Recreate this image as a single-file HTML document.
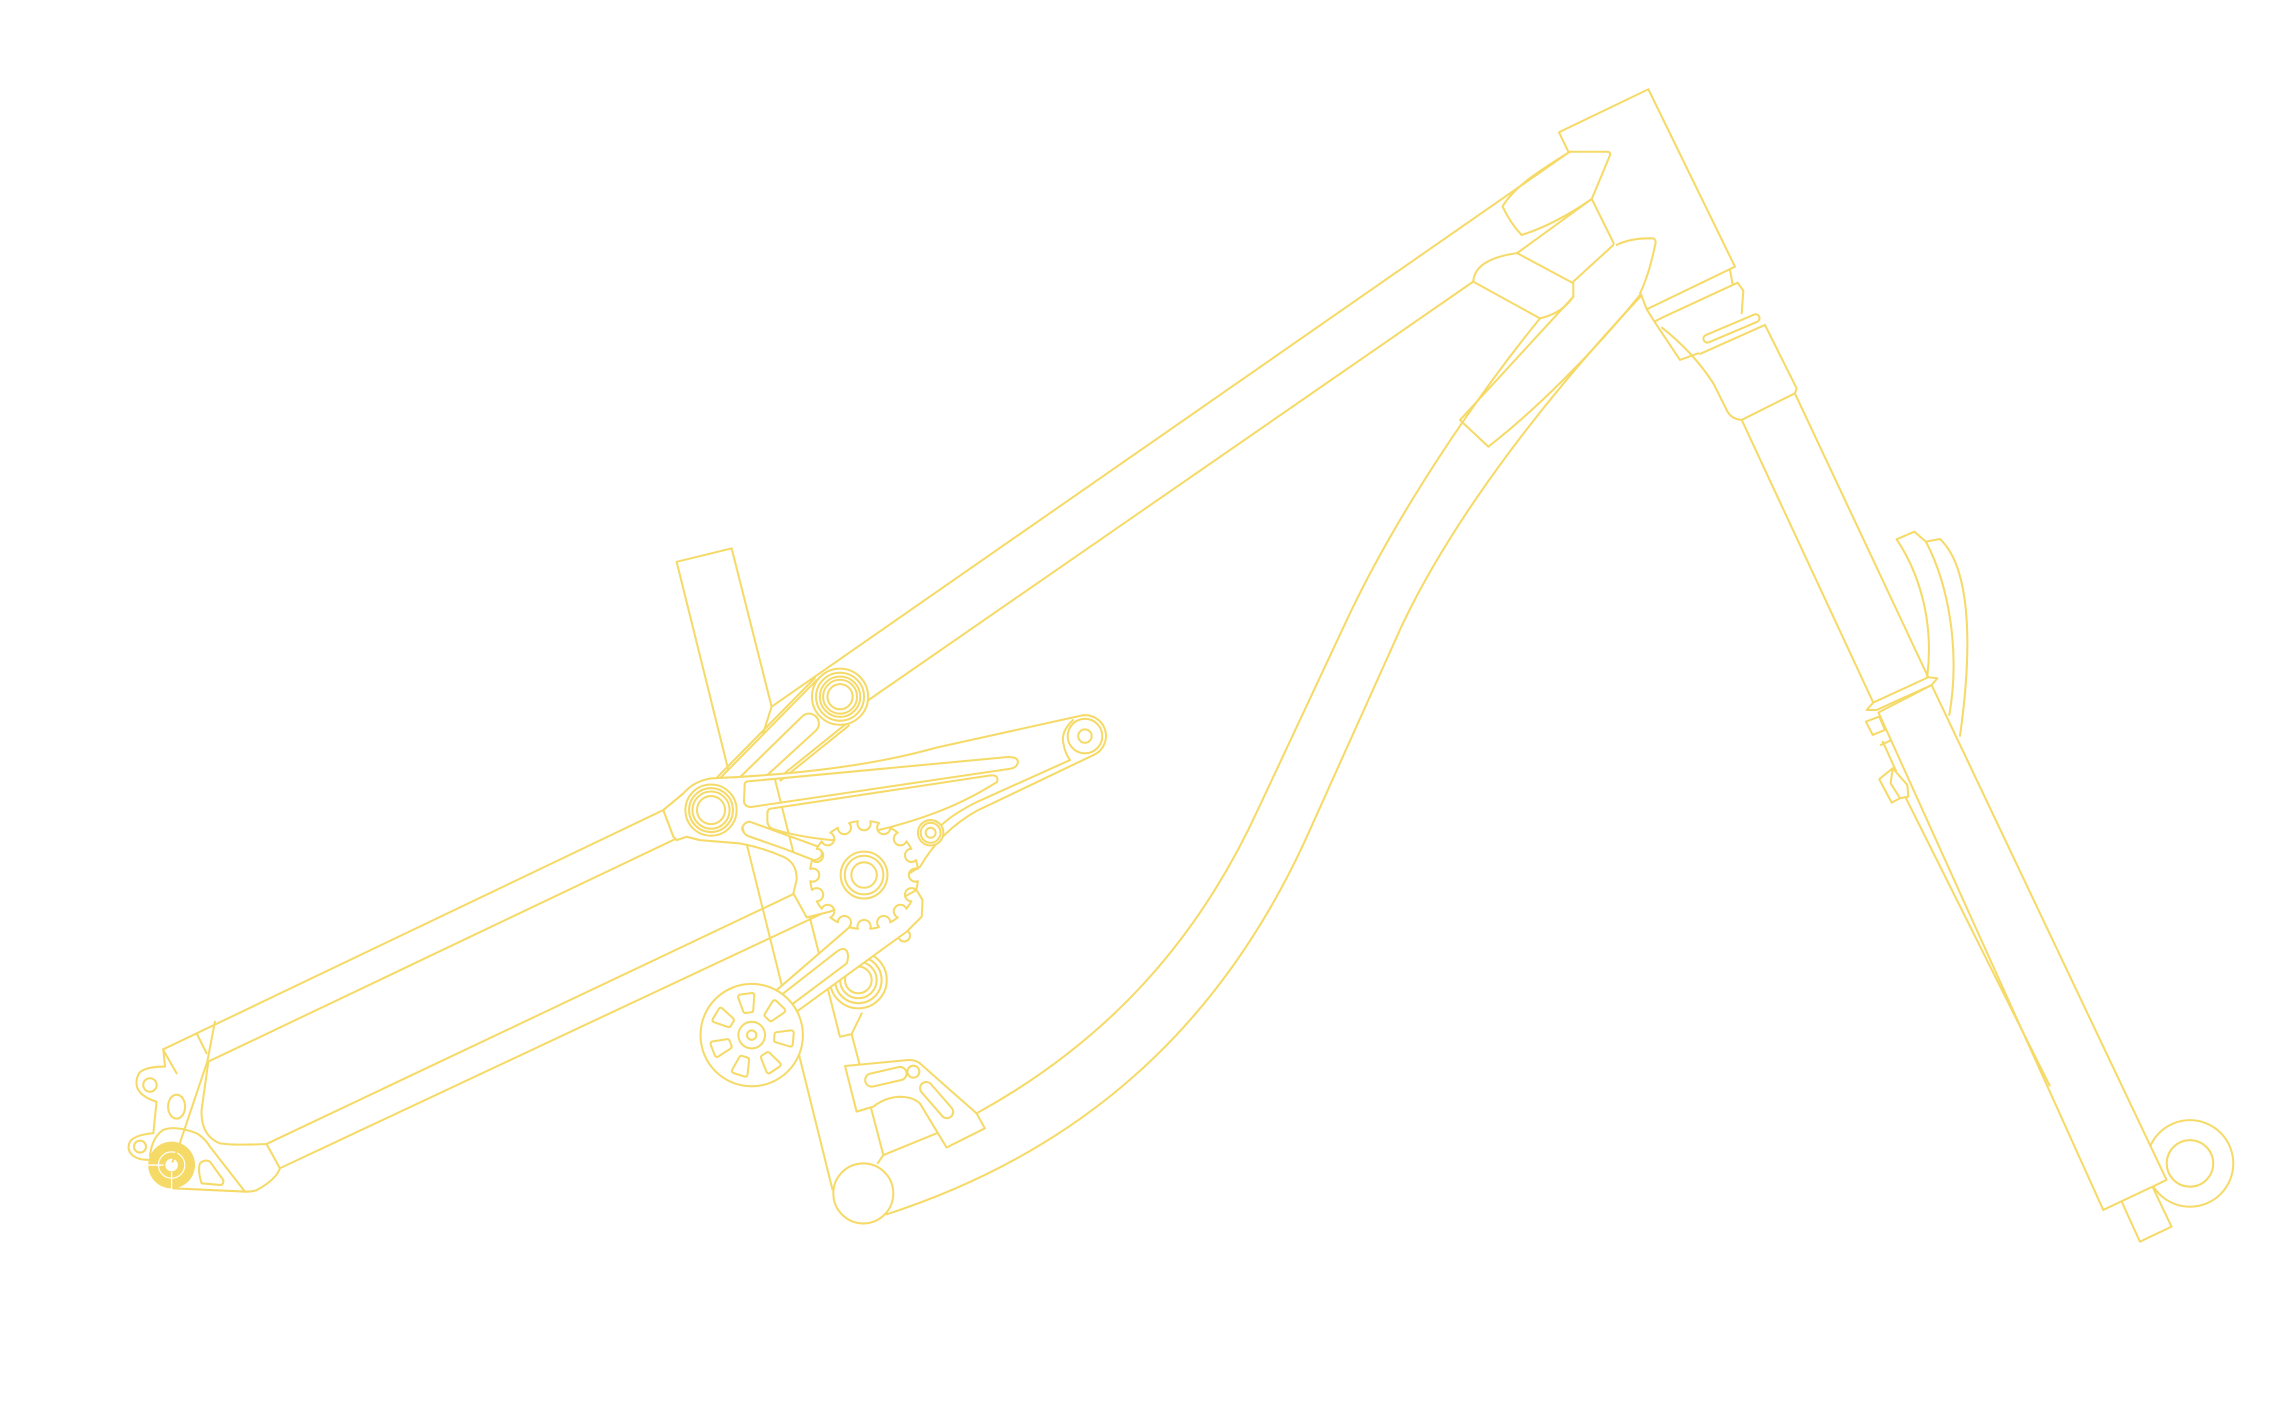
<!DOCTYPE html>
<html>
<head>
<meta charset="utf-8">
<style>
html,body{margin:0;padding:0;background:#ffffff;}
svg{display:block;}
</style>
</head>
<body>
<svg width="2294" height="1424" viewBox="0 0 1568 973.3" preserveAspectRatio="none" xmlns="http://www.w3.org/2000/svg">
<rect width="1568" height="973.3" fill="#ffffff"/>
<g fill="none" stroke="#F6DA68" stroke-width="1.4" stroke-linejoin="round" stroke-linecap="round">

<!-- ===== FORK ===== -->
<circle cx="1496.9" cy="795.2" r="29.6"/>
<circle cx="1496.9" cy="795.2" r="15.9"/>
<path d="M1450.2,821.3 L1462.7,848.7 L1484.3,838.4 L1471.8,812.2" fill="#fff"/>
<path d="M1284,487 L1320.3,468.2 L1480.9,806.5 L1437.6,827 Z" fill="#fff"/>
<path d="M1287,507 L1296,527 M1300,540 L1401,742"/>
<path d="M1275.9,485.3 L1280.4,480.2 L1318,462.9 L1324.2,463.6 L1320.3,468.2 L1282.7,485.3 Z" fill="#fff"/>
<path d="M1275.4,493.2 L1284.5,489.8 L1288.4,498.9 L1280,502.3 Z" fill="#fff"/>
<path d="M1285.5,509.2 L1292.5,506"/>
<path d="M1293.7,525.1 L1284.5,532.6 L1293,548.6 L1298.7,545.6 L1304.4,544.5 L1303.7,536.5 Z" fill="#fff"/>
<path d="M1293.7,525.1 L1292.3,535.4 L1298.7,545.6"/>

<!-- fork arch -->
<path d="M1296.4,368.6 L1308.5,363.4 L1316.4,370.2 L1326,368.4"/>
<path d="M1296.4,368.6 C1312,392 1322,425 1317.3,462.5"/>
<path d="M1316.4,370.2 C1332,400 1340,445 1332.4,488.7"/>
<path d="M1326,368.4 C1344,385 1350,430 1339.7,503"/>

<!-- stanchions -->
<path d="M1190.5,287 L1280.4,480.2 M1226.9,269 L1318,462.9"/>

<!-- crown / headset -->
<path d="M1136,224 C1150,235 1162,248 1171.1,262 L1180.2,280.2 Q1183,286.5 1190.5,287 L1226.9,268.8 L1228,265.4 L1206.4,222.1 L1162,241.9"/>
<path d="M1125.6,211.4 L1130.8,219.8 L1135.1,217.6 L1187.7,193.2 L1191.6,198.6 L1190.5,214.1 M1130.8,219.8 L1148.3,246 L1160.8,241.5 M1182.5,184.5 L1184.3,194.3"/>
<path d="M1166,229 L1199,215 A2.6,2.6 0 0 1 1201,220 L1168,234 A2.6,2.6 0 0 1 1166,229 Z"/>

<!-- ===== HEAD TUBE ===== -->
<path d="M1072,103.7 L1065.6,90.4 L1126.7,61 L1185.9,182.3 L1125.6,211.4 L1121.6,201"/>

<!-- ===== TOP TUBE ===== -->
<path d="M1073,103.7 L527.4,483 M1007,192.5 L590,481"/>
<path d="M1073,103.7 C1050,118 1035,128 1027,141 Q1032,152 1040,160.6 C1058,155 1075,145 1088,136 L1100.5,106 Q1101,103.7 1098,103.7 Z"/>
<path d="M1088,136 L1037,173 M1088,136 L1103,166.3 M1075.4,192.5 L1102.7,167.5 M1007,192.5 L1052.6,217.6"/>
<path d="M1007,192.5 Q1008,177 1037,173 L1075.4,193.6 L1075.4,202.7 Q1068,214 1052.6,217.6"/>

<!-- ===== DOWN TUBE ===== -->
<path d="M1105,167.4 Q1115,162.5 1130,162.9 Q1132.5,164 1131.2,168 Q1127,188 1121,200.5"/>
<path d="M1052.6,217.6 C1010,270 955,350 920,425 L860,553 C820,640 760,710 667.5,761"/>
<path d="M1121,203 C1060,268 995,350 958,428 L895,568 C845,680 760,780 606,830"/>
<path d="M1075.4,202.8 L997.9,287.1 L1017.3,305.3 C1050,280 1090,240 1120.9,201.7"/>

<!-- ===== SEAT TUBE ===== -->
<path d="M569,813 L462.5,384 L500.1,374.8 L527.4,483 L521.7,501 L574.1,708.6 L582.1,706.8 L589,692.6 M582.1,706.8 L603.8,789.5 L600,795"/>

<!-- ===== REAR TRIANGLE ===== -->
<path d="M111.6,717.2 L453.4,553.7 L467.1,542.3 M453.4,553.7 L460.3,571.9 L462.6,574.2 M142.4,725.6 L462.6,573 L469.4,571.9 L478.5,574.2"/>
<path d="M142.4,725.6 L137.8,758.7 Q137,776 150.3,781.5 Q160,783 182.2,781.9 L543.4,610.6 M182.2,781.9 L191.3,798.5 L565,623 M191.3,798.5 Q189,806 175.4,813.5 Q172,814.5 168.6,814.5 L118.4,812.2"/>
<path d="M134.4,706.3 L141.2,719.9 M146.9,698.3 L141.7,725.6 M111.6,717.7 L120.7,733.6 M141.7,725.6 L119,793"/>
<path d="M111.6,717.2 L112.8,729 Q100,729 95.5,733 Q92,738 94,744 Q97,750 107,753 L104.8,774.6 Q93,775.5 89,780 Q86,786 91,790 Q96,793.5 103,792.5"/>
<circle cx="102.5" cy="741.6" r="4.6"/>
<circle cx="95.7" cy="783.7" r="4.1"/>
<path d="M102.5,790 Q104,777 111.6,772.3 Q120,769 134.4,774.6 Q140,778 143.5,783.7 L167.4,814.5"/>
<ellipse cx="120.7" cy="756.4" rx="5.8" ry="8.2"/>
<path d="M137.8,808.8 Q135,800 136.7,795.1 Q140,792 143.5,794 L152.6,806.5 Q153,810 150.3,809.9 Z"/>
<!-- rear axle -->
<circle cx="117.3" cy="796.3" r="16" fill="#F6DA68" stroke="none"/>
<circle cx="117.3" cy="796.3" r="9" stroke="#fff" stroke-width="0.8"/>
<circle cx="117.3" cy="796.3" r="5" fill="#fff"/>
<path d="M100,796.3 L111.5,796.3 M117.3,801.5 L117.3,813" stroke="#fff" stroke-width="0.9"/>
<path d="M121.5,785 L118,794"/>

<!-- ===== BOTTOM BRACKET & HANGER ===== -->
<circle cx="590.1" cy="815.7" r="20.5" fill="#fff"/>
<path d="M603.8,789.5 L640.2,774.6"/>
<path d="M577.6,728.6 L621,724.5 Q626,724.3 629,727 L667.5,761 L673.2,771.2 L647,784.3 L628.8,754.2 Q624,749.6 615,749.6 Q605,750 596.9,756.4 L585.5,759.8 Z" fill="#fff"/>
<rect x="591.1" y="731.5" width="28.8" height="9" rx="4.5" transform="rotate(-13 605.5 736)"/>
<circle cx="624.3" cy="732.5" r="4.1"/>
<rect x="625.2" y="747.65" width="30" height="8.5" rx="4.25" transform="rotate(49 640.2 751.9)"/>

<!-- ===== LOWER LINK ===== -->
<circle cx="586.7" cy="669.8" r="19.4" fill="#fff"/>
<circle cx="586.7" cy="669.8" r="15.9"/>
<circle cx="586.7" cy="669.8" r="12.5"/>
<circle cx="586.7" cy="669.8" r="9.1"/>
<circle cx="618" cy="639.5" r="4" fill="#fff"/>

<!-- chain guide arm -->
<path d="M530.9,676.7 L581,633.4 L626.5,608.3 L630.6,615.2 L630,626.6 L619.7,636.8 L544.5,691.5 Z" fill="#fff"/>
<path d="M535.4,679 L571.9,650.5 Q578,646 579.5,652 Q580,655 578.7,658.5 L542.3,685.8"/>

<!-- ===== UPPER LINK ===== -->
<path d="M491,533.1 L558.2,464.8 L578.7,494.4 L532,532 Z" fill="#fff" stroke="none"/>
<path d="M558.2,464.8 L491,533.1 M556.9,463.5 L489.7,531.8"/>
<path d="M578.7,494.4 L532,532 M580.2,495.9 L533.5,533.5"/>
<path d="M505,532 L548,490 A6,6 0 0 1 558,499 L522,532"/>

<!-- ===== ROCKER ===== -->
<path fill="#fff" fill-rule="evenodd" d="
M467.1,542.3 Q474,534 486,532 Q580,528 640,511 L738.6,489.2 A14.2,14.2 0 0 1 747.8,515.9 L668,554 Q643,568 628.9,592.4 L600,610 L567.3,623.1 L551.4,627 L542.3,610.6 L544.5,601.5 Q545,590 535.5,585.6 Q520,579 505.8,576.5 L478.5,574.2 L469.4,571.9 L462.6,574.2 L460.3,571.9 L453.4,553.7 Z
M509,537 Q508.5,534 512,534 L688,517.5 Q697,517 695.5,522 Q694.5,525 690,525.5 L514,551.5 Q509.5,552 508.5,548 Z
M524.5,556 Q524.5,552.5 528,552.5 L677,530 Q683,529.5 681.5,534.5 Q660,548 638,556 Q612,566 568.5,574.2 Q545,572 528,566.5 Q524.5,565 524.5,561 Z
M509.3,562.8 Q506,566 508.1,568.5 Q509.5,571 512.7,571.9 L535.5,579.9 L556,587.8 Q560,588 561.7,584.4 Q562,580 559.4,578.7 L512.7,561.7 Q511,561.5 509.3,562.8 Z"/>
<path d="M731.4,519.5 L668,548 Q652,556 644,563.5"/>
<path d="M733.4,492.2 Q725,500 726.8,508 Q728,515 731.4,519.5"/>

<!-- pivots -->
<circle cx="486" cy="553.7" r="17.5" fill="#fff"/>
<circle cx="486" cy="553.7" r="15"/>
<circle cx="486" cy="553.7" r="12.7"/>
<circle cx="486" cy="553.7" r="9.6"/>

<circle cx="574.2" cy="476.2" r="19.2" fill="#fff"/>
<circle cx="574.2" cy="476.2" r="16.4"/>
<circle cx="574.2" cy="476.2" r="13.8"/>
<circle cx="574.2" cy="476.2" r="11.6"/>
<circle cx="574.2" cy="476.2" r="8.6"/>

<circle cx="741.6" cy="503.1" r="11.8" fill="#fff"/>
<circle cx="741.6" cy="503.1" r="4.6"/>

<circle cx="636.1" cy="569.2" r="8.7" fill="#fff"/>
<circle cx="636.1" cy="569.2" r="6.8"/>
<circle cx="636.1" cy="569.2" r="3.4"/>

<!-- ===== SPROCKET ===== -->
<g transform="translate(590.6,598.1)">
<path fill="#fff" transform="rotate(-11.25)" d="M36.87,-3.06 A37,37 0 0 1 36.87,3.06 A4.5,4.5 0 1 0 35.24,11.28 A37,37 0 0 1 32.89,16.94 A4.5,4.5 0 1 0 28.24,23.91 A37,37 0 0 1 23.91,28.24 A4.5,4.5 0 1 0 16.94,32.89 A37,37 0 0 1 11.28,35.24 A4.5,4.5 0 1 0 3.06,36.87 A37,37 0 0 1 -3.06,36.87 A4.5,4.5 0 1 0 -11.28,35.24 A37,37 0 0 1 -16.94,32.89 A4.5,4.5 0 1 0 -23.91,28.24 A37,37 0 0 1 -28.24,23.91 A4.5,4.5 0 1 0 -32.89,16.94 A37,37 0 0 1 -35.24,11.28 A4.5,4.5 0 1 0 -36.87,3.06 A37,37 0 0 1 -36.87,-3.06 A4.5,4.5 0 1 0 -35.24,-11.28 A37,37 0 0 1 -32.89,-16.94 A4.5,4.5 0 1 0 -28.24,-23.91 A37,37 0 0 1 -23.91,-28.24 A4.5,4.5 0 1 0 -16.94,-32.89 A37,37 0 0 1 -11.28,-35.24 A4.5,4.5 0 1 0 -3.06,-36.87 A37,37 0 0 1 3.06,-36.87 A4.5,4.5 0 1 0 11.28,-35.24 A37,37 0 0 1 16.94,-32.89 A4.5,4.5 0 1 0 23.91,-28.24 A37,37 0 0 1 28.24,-23.91 A4.5,4.5 0 1 0 32.89,-16.94 A37,37 0 0 1 35.24,-11.28 A4.5,4.5 0 1 0 36.87,-3.06 Z"/>
<circle r="16"/>
<circle r="13.2"/>
<circle r="8.7"/>
</g>

<!-- ===== PULLEY ===== -->
<g transform="translate(513.8,707.5)">
<circle r="35" fill="#fff"/>
<circle r="9.1"/>
<circle r="3.2"/>
<path transform="rotate(-98)" d="M17,-3.5 L26.5,-5.5 Q28.5,-5.8 28.5,-3.5 L28.5,3.5 Q28.5,5.8 26.5,5.5 L17,3.5 Q15.5,3.2 15.5,1.8 L15.5,-1.8 Q15.5,-3.2 17,-3.5 Z"/>
<path transform="rotate(-46.6)" d="M17,-3.5 L26.5,-5.5 Q28.5,-5.8 28.5,-3.5 L28.5,3.5 Q28.5,5.8 26.5,5.5 L17,3.5 Q15.5,3.2 15.5,1.8 L15.5,-1.8 Q15.5,-3.2 17,-3.5 Z"/>
<path transform="rotate(4.9)" d="M17,-3.5 L26.5,-5.5 Q28.5,-5.8 28.5,-3.5 L28.5,3.5 Q28.5,5.8 26.5,5.5 L17,3.5 Q15.5,3.2 15.5,1.8 L15.5,-1.8 Q15.5,-3.2 17,-3.5 Z"/>
<path transform="rotate(56.3)" d="M17,-3.5 L26.5,-5.5 Q28.5,-5.8 28.5,-3.5 L28.5,3.5 Q28.5,5.8 26.5,5.5 L17,3.5 Q15.5,3.2 15.5,1.8 L15.5,-1.8 Q15.5,-3.2 17,-3.5 Z"/>
<path transform="rotate(107.7)" d="M17,-3.5 L26.5,-5.5 Q28.5,-5.8 28.5,-3.5 L28.5,3.5 Q28.5,5.8 26.5,5.5 L17,3.5 Q15.5,3.2 15.5,1.8 L15.5,-1.8 Q15.5,-3.2 17,-3.5 Z"/>
<path transform="rotate(159.1)" d="M17,-3.5 L26.5,-5.5 Q28.5,-5.8 28.5,-3.5 L28.5,3.5 Q28.5,5.8 26.5,5.5 L17,3.5 Q15.5,3.2 15.5,1.8 L15.5,-1.8 Q15.5,-3.2 17,-3.5 Z"/>
<path transform="rotate(210.6)" d="M17,-3.5 L26.5,-5.5 Q28.5,-5.8 28.5,-3.5 L28.5,3.5 Q28.5,5.8 26.5,5.5 L17,3.5 Q15.5,3.2 15.5,1.8 L15.5,-1.8 Q15.5,-3.2 17,-3.5 Z"/>
</g>

</g>
</svg>
</body>
</html>
